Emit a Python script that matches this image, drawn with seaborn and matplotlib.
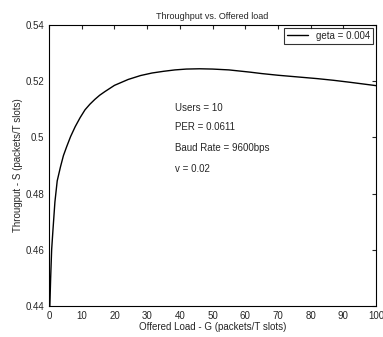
import matplotlib
matplotlib.use("Agg")
import matplotlib.pyplot as plt
import seaborn as sns
import pandas as pd

offered_load = [0.2, 0.5, 0.8, 1.2, 1.8, 2.5, 3.5, 4.4, 5.4, 6.6, 8.0, 9.5, 11, 12.5, 14,
                15.5, 17.1, 20, 24.2, 28, 31.5, 35, 38.5, 42, 46, 50, 55, 61.5, 65, 70,
                75, 82, 87, 92, 96, 100]
throughput = [0.438, 0.450, 0.460, 0.467, 0.477, 0.4845, 0.4895, 0.4935, 0.4967, 0.5003,
              0.5038, 0.5070, 0.5098, 0.5118, 0.5135, 0.5150, 0.5163, 0.5185, 0.5206,
              0.5220, 0.5229, 0.5235, 0.5240, 0.5243, 0.5244, 0.5243, 0.5240, 0.5232,
              0.5227, 0.5221, 0.5216, 0.5209, 0.5203, 0.5196, 0.5190, 0.5184]
legend_label = "geta = 0.004"
annotations = ["Users = 10", "PER = 0.0611", "Baud Rate = 9600bps", "v = 0.02"]
annot_y = [0.5103, 0.5036, 0.4962, 0.4888]
x_ticks = [0, 10, 20, 30, 40, 50, 60, 70, 80, 90, 100]
y_ticks = [0.44, 0.46, 0.48, 0.5, 0.52, 0.54]

sns.set_style("white")
plt.rcParams['font.family'] = ['Liberation Sans', 'DejaVu Sans']

df = pd.DataFrame({"G": offered_load, "S": throughput})
fig = plt.figure(figsize=(3.83, 3.37), dpi=100)
ax = fig.add_axes([0.128, 0.092, 0.854, 0.834])
sns.lineplot(data=df, x="G", y="S", ax=ax, color="black", linewidth=1.0, label=legend_label)

ax.set_xlim(0, 100)
ax.set_ylim(0.44, 0.54)
ax.set_xticks(x_ticks)
ax.set_yticks(y_ticks)
ax.set_yticklabels([f"{v:g}" for v in y_ticks])
ax.tick_params(direction="in", length=3, labelsize=7, top=True, right=True, width=0.8)
for s in ax.spines.values():
    s.set_color("black")
    s.set_linewidth(0.8)

ax.set_title("Throughput vs. Offered load", fontsize=6.5, pad=4)
ax.set_xlabel("Offered Load - G (packets/T slots)", fontsize=7, labelpad=1)
ax.set_ylabel("Througput - S (packets/T slots)", fontsize=7, labelpad=2)

for t, y in zip(annotations, annot_y):
    ax.text(38.5, y, t, fontsize=7, va="center", ha="left")

leg = ax.legend(loc="upper right", fontsize=7, frameon=True, fancybox=False,
                handlelength=2.2, borderpad=0.3, borderaxespad=0.3)
leg.get_frame().set_edgecolor("black")
leg.get_frame().set_linewidth(0.8)

fig.savefig("out.png", dpi=100)
